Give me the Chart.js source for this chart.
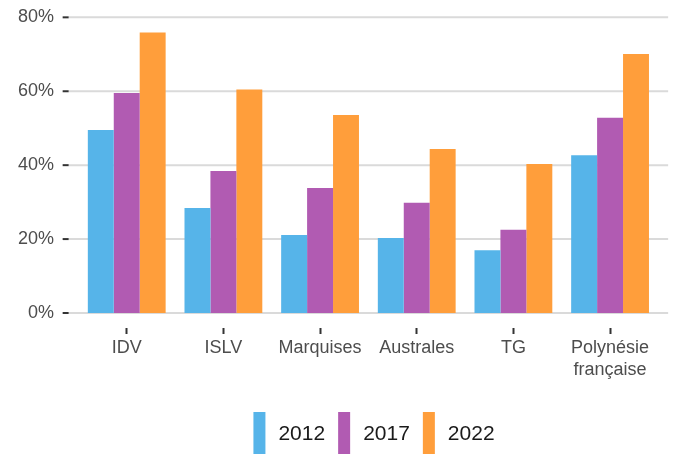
<!DOCTYPE html>
<html lang="fr">
<head>
<meta charset="UTF-8">
<title>Bar Chart</title>
<script src="https://cdn.jsdelivr.net/npm/chart.js@4.4.1/dist/chart.umd.min.js"></script>
<style>
    html, body { margin: 0; padding: 0; background: #fff; }
    #container { width: 677px; height: 454px; }
</style>
</head>
<body>
<div id="container"><canvas id="canvas"></canvas></div>
<script>
    var CATEGORIES = ['IDV', 'ISLV', 'Marquises', 'Australes', 'TG', ['Polynésie', 'française']];
    var YEARS = ['2012', '2017', '2022'];
    var VALUES_2012 = [49.5, 28.4, 21.1, 20.3, 17.0, 42.7];
    var VALUES_2017 = [59.5, 38.4, 33.8, 29.8, 22.5, 52.8];
    var VALUES_2022 = [75.9, 60.5, 53.6, 44.4, 40.3, 70.1];
    var Y_TICKS = [0, 20, 40, 60, 80];
    var COLORS = ['#56B4E9', '#B15BB2', '#FF9E3B'];

    var FONT = 'Liberation Sans, Arial, sans-serif';
    var EXTEND = 9.75; // grid lines run a bit past the first/last category
    var Y_MIN = -4.06, Y_MAX = 84.15;

    // grid lines + y tick marks, drawn under the bars
    var gridPlugin = {
        id: 'gridPlugin',
        beforeDatasetsDraw: function(chart) {
            var ctx = chart.ctx, area = chart.chartArea, y = chart.scales.y;
            ctx.save();
            ctx.lineWidth = 2;
            Y_TICKS.forEach(function(v) {
                var py = y.getPixelForValue(v);
                ctx.strokeStyle = '#dadada';
                ctx.beginPath();
                ctx.moveTo(area.left - EXTEND, py);
                ctx.lineTo(area.right + EXTEND, py);
                ctx.stroke();
                ctx.strokeStyle = '#333333';
                ctx.beginPath();
                ctx.moveTo(area.left - EXTEND - 6, py);
                ctx.lineTo(area.left - EXTEND, py);
                ctx.stroke();
            });
            ctx.restore();
        }
    };

    // legend with tall narrow keys
    var legendPlugin = {
        id: 'legendPlugin',
        afterDraw: function(chart) {
            var ctx = chart.ctx;
            ctx.save();
            ctx.font = '21px ' + FONT;
            ctx.textBaseline = 'middle';
            var keyW = 12, gap = 13, total = 0;
            var widths = chart.data.datasets.map(function(ds) {
                return ctx.measureText(ds.label).width;
            });
            widths.forEach(function(w, i) {
                total += keyW + gap + w + (i < widths.length - 1 ? gap : 0);
            });
            var x = 374 - total / 2;
            chart.data.datasets.forEach(function(ds, i) {
                ctx.fillStyle = ds.backgroundColor;
                ctx.fillRect(x, 412, keyW, 42);
                ctx.fillStyle = '#1a1a1a';
                ctx.fillText(ds.label, x + keyW + gap, 434);
                x += keyW + gap + widths[i] + gap;
            });
            ctx.restore();
        }
    };

    window.onload = function() {
        var ctx = document.getElementById('canvas').getContext('2d');
        window.myBar = new Chart(ctx, {
            type: 'bar',
            data: {
                labels: CATEGORIES,
                datasets: [
                    { label: YEARS[0], data: VALUES_2012, backgroundColor: COLORS[0] },
                    { label: YEARS[1], data: VALUES_2017, backgroundColor: COLORS[1] },
                    { label: YEARS[2], data: VALUES_2022, backgroundColor: COLORS[2] }
                ]
            },
            options: {
                responsive: true,
                maintainAspectRatio: false,
                animation: false,
                layout: { padding: { top: 2, right: 18.6, bottom: 0, left: 0 } },
                datasets: { bar: { categoryPercentage: 0.805, barPercentage: 1.0 } },
                plugins: {
                    legend: { display: false },
                    tooltip: { enabled: false }
                },
                scales: {
                    x: {
                        afterFit: function(scale) { scale.height = 126; },
                        border: { display: false },
                        grid: {
                            offset: false,
                            drawOnChartArea: false,
                            drawTicks: true,
                            tickLength: 6,
                            tickWidth: 2,
                            tickColor: '#333333'
                        },
                        ticks: {
                            color: '#4d4d4d',
                            padding: 3,
                            maxRotation: 0,
                            autoSkip: false,
                            font: { family: FONT, size: 18, lineHeight: 1.22 }
                        }
                    },
                    y: {
                        min: Y_MIN,
                        max: Y_MAX,
                        bounds: 'data',
                        afterFit: function(scale) {
                            scale.width = 78.4;
                            // labels sit inside the plot, no extra room needed above/below
                            scale.paddingTop = 0;
                            scale.paddingBottom = 0;
                        },
                        afterBuildTicks: function(scale) {
                            scale.ticks = Y_TICKS.map(function(v) { return { value: v }; });
                            scale.min = Y_MIN;
                            scale.max = Y_MAX;
                        },
                        border: { display: false },
                        grid: { display: false, drawTicks: false },
                        ticks: {
                            color: '#4d4d4d',
                            padding: 24.4,
                            font: { family: FONT, size: 18 },
                            callback: function(v) { return v + '%'; }
                        }
                    }
                }
            },
            plugins: [gridPlugin, legendPlugin]
        });
    };
</script>
</body>
</html>
